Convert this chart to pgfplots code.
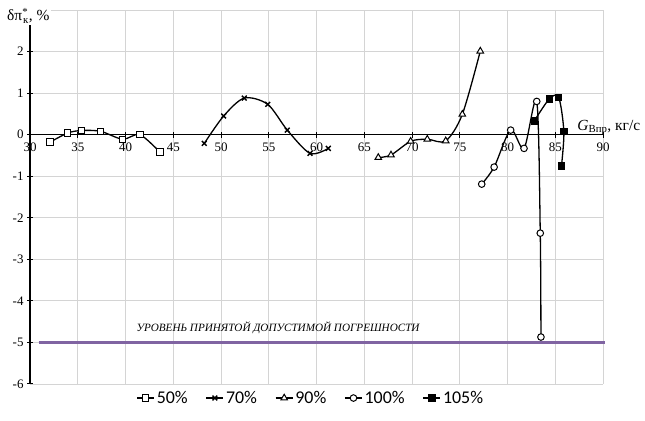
\documentclass[border=0pt]{standalone}
\usepackage{fontspec}
\setmainfont{Liberation Serif}
\newfontfamily\legfont{Carlito}
\usepackage{pgfplots}
\pgfplotsset{compat=1.18}
\definecolor{limpurple}{RGB}{128,100,162}

\begin{document}
\begin{tikzpicture}
\begin{axis}[
    name=ax,
    scale only axis,
    width=573bp, height=374bp,
    xmin=30, xmax=90, ymin=-6, ymax=3,
    axis x line=middle, axis y line=left,
    axis line style={-, black, line width=1.3bp},
    xtick={30,35,...,90},
    ytick={-6,...,2},
    extra y ticks={3},
    extra y tick labels={},
    extra y tick style={tick style={draw=none}},
    hide obscured x ticks=false,
    tick align=center,
    major tick length=6bp,
    tick style={black, line width=1bp},
    grid=major,
    major grid style={line width=0.8bp, black!17},
    tick label style={font=\fontsize{13}{15}\selectfont},
    x tick label style={yshift=-2bp},
    /pgf/number format/assume math mode=true,
    clip=false,
    legend style={at={(0.49,-0.008)}, anchor=north, draw=none,
        legend columns=-1, font=\legfont\fontsize{18}{20}\selectfont,
        /tikz/every even column/.append style={column sep=16bp}},
    every axis plot/.append style={black, line width=1.3bp, smooth},
]

% permissible error level
\addplot[limpurple, line width=2.6bp, no marks, forget plot, sharp plot]
    coordinates {(30.9,-5) (90.2,-5)};

\addplot[mark=square*, mark size=3.2bp, mark options={fill=white, line width=1bp}]
    coordinates {
    (32.1,-0.18)(33.95,0.04)(35.4,0.10)(37.4,0.08)(39.7,-0.11)(41.5,0.0)(43.6,-0.42)
    };
\addlegendentry{50\%}

\addplot[mark=x, mark size=3.4bp, mark options={line width=1.4bp}]
    coordinates {
    (48.25,-0.21)(50.28,0.45)(52.44,0.88)(54.89,0.73)(56.94,0.11)(59.32,-0.45)(61.24,-0.33)
    };
\addlegendentry{70\%}

\addplot[mark=triangle*, mark size=3.8bp, mark options={fill=white, line width=1bp}]
    coordinates {
    (66.47,-0.55)(67.8,-0.49)(69.86,-0.16)(71.6,-0.11)(73.53,-0.15)(75.27,0.49)(77.15,2.01)
    };
\addlegendentry{90\%}

\addplot[mark=*, mark size=3.3bp, mark options={fill=white, line width=1bp}]
    coordinates {
    (77.3,-1.19)(78.6,-0.78)(80.33,0.11)(81.73,-0.33)(83.06,0.80)(83.43,-2.37)(83.5,-4.87)
    };
\addlegendentry{100\%}

\addplot[mark=square*, mark size=3.2bp, mark options={fill=black, line width=1bp}]
    coordinates {
    (82.8,0.33)(84.38,0.86)(85.36,0.90)(85.9,0.07)(85.65,-0.75)
    };
\addlegendentry{105\%}

\node[anchor=base west, font=\itshape\fontsize{11.2}{13}\selectfont]
    at (axis cs:40.8,-4.73) {УРОВЕНЬ ПРИНЯТОЙ ДОПУСТИМОЙ ПОГРЕШНОСТИ};
\node[anchor=base west, inner sep=0pt, font=\fontsize{15.5}{17}\selectfont]
    at (axis cs:87.3,0.1) {\textit{G}\textsubscript{Впр}, кг/с};
\end{axis}

\node[anchor=base west, fill=white, inner sep=2bp, font=\fontsize{15.5}{17}\selectfont]
    at ([shift={(-25bp,-11bp)}]ax.north west)
    {δπ\textsuperscript{*}\hspace{-0.33em}\textsubscript{к}, \%};

\pgfresetboundingbox
\path ([shift={(-30bp,-37bp)}]ax.south west) rectangle ([shift={(42bp,10bp)}]ax.north east);
\end{tikzpicture}
\end{document}
